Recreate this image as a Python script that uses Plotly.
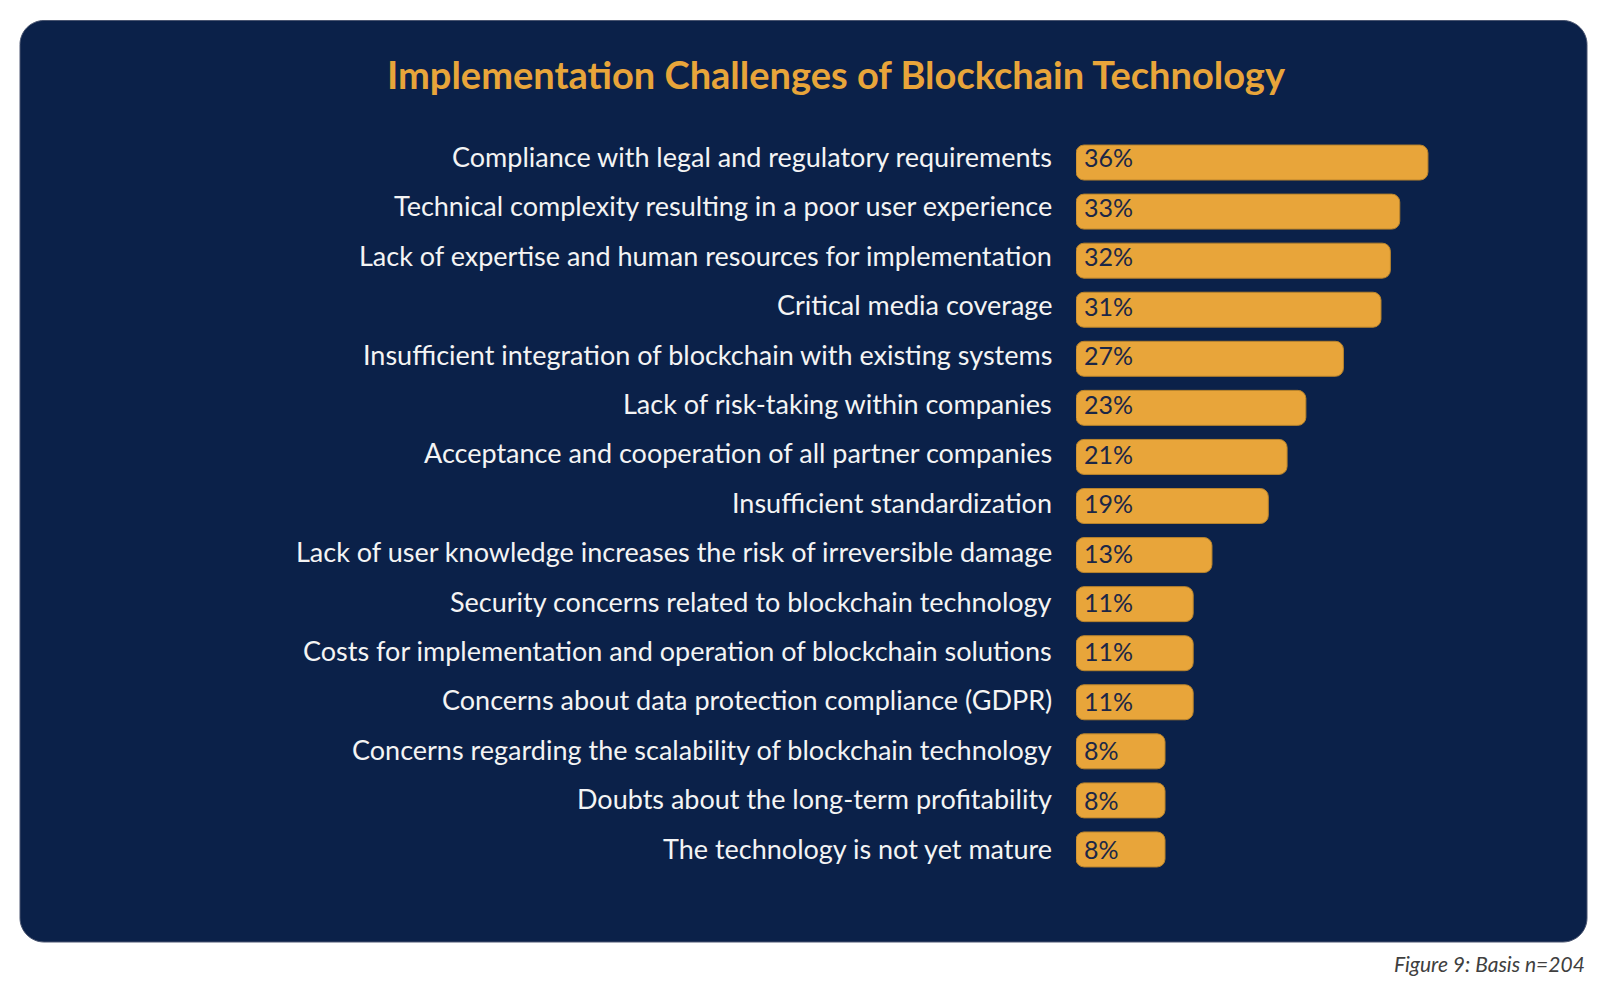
import plotly.graph_objects as go

categories = [
    "Compliance with legal and regulatory requirements",
    "Technical complexity resulting in a poor user experience",
    "Lack of expertise and human resources for implementation",
    "Critical media coverage",
    "Insufficient integration of blockchain with existing systems",
    "Lack of risk-taking within companies",
    "Acceptance and cooperation of all partner companies",
    "Insufficient standardization",
    "Lack of user knowledge increases the risk of irreversible damage",
    "Security concerns related to blockchain technology",
    "Costs for implementation and operation of blockchain solutions",
    "Concerns about data protection compliance (GDPR)",
    "Concerns regarding the scalability of blockchain technology",
    "Doubts about the long-term profitability",
    "The technology is not yet mature",
]
values = [36, 33, 32, 31, 27, 23, 21, 19, 13, 11, 11, 11, 8, 8, 8]
value_labels = [f"{v}%" for v in values]

W, H = 1600, 985
NAVY = "#0B2149"
GOLD = "#E8A53A"
BAR_PAD = 1.48  # bars in the original start a little before zero

fig = go.Figure(go.Bar(
    x=[v + BAR_PAD for v in values], y=categories, base=-BAR_PAD,
    orientation="h",
    marker=dict(color=GOLD, line=dict(color="#B8832C", width=1), cornerradius=8),
    hoverinfo="skip",
))

# rounded panel (pixel -> paper)
def px(x): return x / W
def py(y): return 1 - y / H
x0, x1, y0, y1, r = 20, 1587, 20.5, 942, 24
k = 0.45
path = (
    f"M {px(x0+r)},{py(y0)} L {px(x1-r)},{py(y0)} "
    f"C {px(x1-r*k)},{py(y0)} {px(x1)},{py(y0+r*k)} {px(x1)},{py(y0+r)} "
    f"L {px(x1)},{py(y1-r)} "
    f"C {px(x1)},{py(y1-r*k)} {px(x1-r*k)},{py(y1)} {px(x1-r)},{py(y1)} "
    f"L {px(x0+r)},{py(y1)} "
    f"C {px(x0+r*k)},{py(y1)} {px(x0)},{py(y1-r*k)} {px(x0)},{py(y1-r)} "
    f"L {px(x0)},{py(y0+r)} "
    f"C {px(x0)},{py(y0+r*k)} {px(x0+r*k)},{py(y0)} {px(x0+r)},{py(y0)} Z"
)

annotations = []
for cat, lab in zip(categories, value_labels):
    annotations.append(dict(
        text=cat, x=-BAR_PAD, y=cat, xref="x", yref="y2",
        xanchor="right", yanchor="middle", xshift=-22, yshift=0,
        showarrow=False, font=dict(family="Lato", size=27, color="#F4F4F4")))
    annotations.append(dict(
        text=lab, x=-BAR_PAD, y=cat, xref="x", yref="y2",
        xanchor="left", yanchor="middle", xshift=6, yshift=-1,
        showarrow=False, font=dict(family="Lato", size=25, color="#1B2747")))

annotations += [
    dict(text="<b>Implementation Challenges of Blockchain Technology</b>",
         x=836 / W, y=1 - 74 / H, xref="paper", yref="paper",
         xanchor="center", yanchor="middle", showarrow=False,
         font=dict(family="Lato", size=38, color=GOLD)),
    dict(text="<i>Figure 9: Basis n=204</i>",
         x=1587 / W, y=1 - 963 / H, xref="paper", yref="paper",
         xanchor="right", yanchor="middle", showarrow=False,
         font=dict(family="Lato", size=21, color="#404040")),
]

fig.update_layout(
    width=W, height=H,
    margin=dict(l=0, r=0, t=0, b=0),
    paper_bgcolor="white", plot_bgcolor="rgba(0,0,0,0)",
    showlegend=False,
    bargap=0.287,
    shapes=[dict(type="path", path=path, xref="paper", yref="paper",
                 fillcolor=NAVY, line=dict(color="#4a5570", width=1), layer="below")],
    xaxis=dict(domain=[1076 / W, 1], range=[-BAR_PAD, -BAR_PAD + 524 / 9.39],
               visible=False, fixedrange=True),
    yaxis=dict(domain=[1 - 874 / H, 1 - 138 / H], range=[14.5, -0.5],
               showgrid=False, zeroline=False, showline=False, ticks="",
               showticklabels=False, fixedrange=True),
    # label rows in the original are spaced slightly differently from the bars
    yaxis2=dict(domain=[1 - 872.7 / H, 1 - 131.8 / H], range=[14.5, -0.5],
                type="category", categoryorder="array", categoryarray=categories,
                overlaying=None, anchor="x", visible=False, fixedrange=True),
    annotations=annotations,
)

fig.write_html("out.html")
